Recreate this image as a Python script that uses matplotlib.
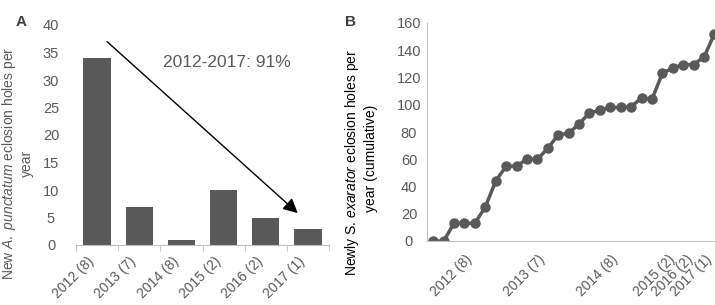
import matplotlib.pyplot as plt

plt.rcParams['font.family'] = ['Liberation Sans', 'DejaVu Sans']
plt.rcParams['mathtext.fontset'] = 'custom'
plt.rcParams['mathtext.it'] = 'Liberation Sans:italic'
plt.rcParams['mathtext.rm'] = 'Liberation Sans'

# panel A data
years_a = ['2012 (8)', '2013 (7)', '2014 (8)', '2015 (2)', '2016 (2)', '2017 (1)']
holes_a = [34, 7, 1, 10, 5, 3]

# panel B data (cumulative)
cumulative_b = [0, 0, 13, 13, 13, 25, 44, 55, 55, 60, 60, 68, 78, 79, 86, 94,
                96, 98, 98, 98.5, 105, 104, 123, 127, 129.5, 129.5, 135, 152]
tick_pos_b = [4, 11, 18, 23.5, 25.2, 27]
tick_lab_b = ['2012 (8)', '2013 (7)', '2014 (8)', '2015 (2)', '2016 (2)', '2017 (1)']

grey = '#595959'
axis_grey = '#bfbfbf'

fig = plt.figure(figsize=(7.15, 3.05), dpi=100)

# ---- panel A ----
ax1 = fig.add_axes([76/715, 60/305, 253/715, 220/305])
ax1.bar(range(len(holes_a)), holes_a, width=0.65, color=grey)
ax1.set_xlim(-0.5, len(holes_a) - 0.5)
ax1.set_ylim(0, 40)
ax1.set_yticks(range(0, 41, 5))
ax1.tick_params(axis='y', length=0, labelsize=10.5, labelcolor=grey, pad=18)
for lab in ax1.get_yticklabels():
    lab.set_horizontalalignment('center')
ax1.set_xticks(range(len(years_a)))
ax1.set_xticklabels(years_a, rotation=45, ha='right', fontsize=10, color=grey)
ax1.tick_params(axis='x', length=0, pad=7)
# small tick marks between categories
ax1.set_xticks([i - 0.5 for i in range(len(years_a) + 1)], minor=True)
ax1.tick_params(axis='x', which='minor', length=4, color=axis_grey, direction='out')
for s in ['top', 'right', 'left']:
    ax1.spines[s].set_visible(False)
ax1.spines['bottom'].set_color(axis_grey)

ax1.annotate('', xy=(4.81, 5.45), xytext=(0.19, 37.3),
             arrowprops=dict(arrowstyle='-|>', mutation_scale=22, color='black', lw=1))
ax1.text(3.08, 33.1, '2012-2017: 91%', ha='center', va='center', fontsize=12.5, color=grey)

fig.text(17/715, 1 - 163/305, r'New $\mathit{A.\ punctatum}$ eclosion holes per' + '\nyear',
         rotation=90, ha='center', va='center', fontsize=10, color=grey,
         multialignment='center')
fig.text(21/715, 1 - 22/305, 'A', fontsize=11, fontweight='bold', color='#404040',
         ha='center', va='center')

# ---- panel B ----
ax2 = fig.add_axes([427/715, 64/305, 302/715, 218/305])
ax2.plot(range(len(cumulative_b)), cumulative_b, color=grey, lw=2.5,
         marker='o', markersize=6.5)
ax2.set_xlim(-0.6, 28.4)
ax2.set_ylim(0, 160)
ax2.set_yticks(range(0, 161, 20))
ax2.tick_params(axis='y', length=0, labelsize=10.5, labelcolor=grey, pad=13)
for lab in ax2.get_yticklabels():
    lab.set_horizontalalignment('center')
ax2.set_xticks(tick_pos_b)
ax2.set_xticklabels(tick_lab_b, rotation=45, ha='right', fontsize=10, color=grey)
ax2.tick_params(axis='x', length=0, pad=8)
for s in ['top', 'right']:
    ax2.spines[s].set_visible(False)
ax2.spines['bottom'].set_color(axis_grey)
ax2.spines['left'].set_color(axis_grey)
for lab in ax2.get_xticklabels() + ax2.get_yticklabels():
    lab.set_clip_on(False)

fig.text(352/715, 1 - 162/305, r'Newly S. $\mathit{exarator}$ eclosion holes per',
         rotation=90, ha='center', va='center', fontsize=10, color='black')
fig.text(371/715, 1 - 158/305, 'year (cumulative)',
         rotation=90, ha='center', va='center', fontsize=10, color='black')
fig.text(350/715, 1 - 22/305, 'B', fontsize=11, fontweight='bold', color='#404040',
         ha='center', va='center')

fig.savefig('out.png', dpi=100)
